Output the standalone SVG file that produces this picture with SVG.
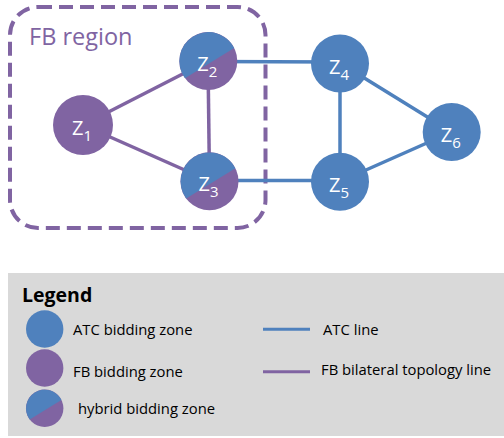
<svg xmlns="http://www.w3.org/2000/svg" xmlns:xlink="http://www.w3.org/1999/xlink" width="504" height="438" viewBox="0 0 504 438">
<style>
.atc{fill:#4f81bd}
.fb{fill:#8064a2}
.e-atc{stroke:#4f81bd;stroke-width:3.5;fill:none}
.e-fb{stroke:#8064a2;stroke-width:3.5;fill:none}
.le-atc{stroke:#4f81bd;stroke-width:3;fill:none}
.le-fb{stroke:#8064a2;stroke-width:3;fill:none}
.zt{font-family:"Open Sans","Liberation Sans",sans-serif;font-size:20px;fill:#fff;text-anchor:middle}
.sub{font-size:15px}
.lg{font-family:"Open Sans","Liberation Sans",sans-serif;font-size:14.8px;fill:#000}
</style>
<defs>
<g id="hyb">
<circle r="29" class="fb"/>
<path class="atc" d="M25.93 -13.01 A29 29 0 1 0 -23.31 17.27 Z"/>
</g>
</defs>
<rect width="504" height="438" fill="#fff"/>
<g id="fb-region">
<rect x="10" y="7" width="255.5" height="221" rx="28" ry="28" fill="none" stroke="#8064a2" stroke-width="4" stroke-dasharray="14 7"/>
<text x="29" y="45" font-family="Open Sans, Liberation Sans, sans-serif" font-size="23.5" fill="#8064a2">FB region</text>
</g>
<g id="connectors">
<line class="e-fb" x1="83" y1="125" x2="208" y2="61"/>
<line class="e-fb" x1="83" y1="125" x2="209.5" y2="181"/>
<line class="e-fb" x1="208" y1="61" x2="209.5" y2="181"/>
<line class="e-atc" x1="208" y1="61.5" x2="340" y2="62"/>
<line class="e-atc" x1="209.5" y1="180.5" x2="340" y2="180.5"/>
<line class="e-atc" x1="340" y1="63" x2="340" y2="181.5"/>
<line class="e-atc" x1="340" y1="63" x2="451.7" y2="132"/>
<line class="e-atc" x1="340" y1="181.5" x2="451.7" y2="132"/>
</g>
<g id="Z1">
<circle cx="83" cy="125" r="30" class="fb"/>
<text class="zt" x="82" y="135">Z<tspan class="sub" dy="6">1</tspan></text>
</g>
<g id="Z2">
<use xlink:href="#hyb" transform="translate(208.3,61)"/>
<text class="zt" x="207.3" y="71">Z<tspan class="sub" dy="6">2</tspan></text>
</g>
<g id="Z3">
<use xlink:href="#hyb" transform="translate(209.5,181.3)"/>
<text class="zt" x="208.5" y="191.3">Z<tspan class="sub" dy="6">3</tspan></text>
</g>
<g id="Z4">
<circle cx="340" cy="63.5" r="29" class="atc"/>
<text class="zt" x="339" y="73.5">Z<tspan class="sub" dy="6">4</tspan></text>
</g>
<g id="Z5">
<circle cx="340" cy="181.7" r="29" class="atc"/>
<text class="zt" x="339" y="191.7">Z<tspan class="sub" dy="6">5</tspan></text>
</g>
<g id="Z6">
<circle cx="451.7" cy="132" r="29" class="atc"/>
<text class="zt" x="450.7" y="142">Z<tspan class="sub" dy="6">6</tspan></text>
</g>
<g id="legend">
<rect x="8" y="273" width="496" height="163" fill="#d9d9d9"/>
<text x="22" y="302" font-family="Open Sans, Liberation Sans, sans-serif" font-size="19.5" font-weight="bold" fill="#000">Legend</text>
<circle cx="44.7" cy="329" r="18.7" class="atc"/>
<text class="lg" x="73" y="335">ATC bidding zone</text>
<circle cx="44.7" cy="368" r="18.7" class="fb"/>
<text class="lg" x="73" y="377">FB bidding zone</text>
<use xlink:href="#hyb" transform="translate(44.7,408.3) scale(0.645)"/>
<text class="lg" x="78" y="414">hybrid bidding zone</text>
<line class="le-atc" x1="263" y1="329.3" x2="310" y2="329.3"/>
<text class="lg" x="323" y="335">ATC line</text>
<line class="le-fb" x1="263" y1="371.7" x2="310" y2="371.7"/>
<text class="lg" x="321" y="375">FB bilateral topology line</text>
</g>
</svg>
